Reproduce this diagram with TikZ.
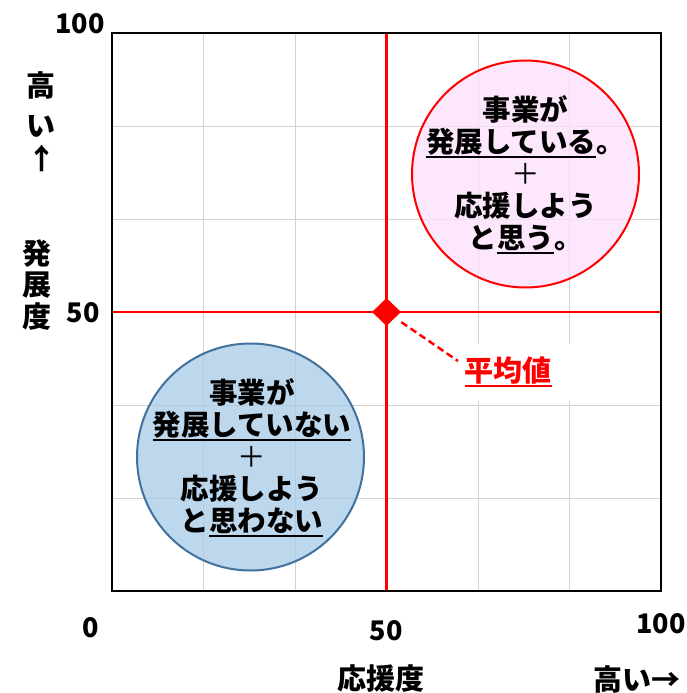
\documentclass[tikz,border=0pt]{standalone}
\usepackage{fontspec}
\usetikzlibrary{shapes.geometric}
\newfontfamily\jp{Noto Sans CJK JP}
\definecolor{gridgray}{RGB}{210,210,210}
\definecolor{bluefill}{RGB}{167,202,232}
\definecolor{blueedge}{RGB}{65,113,156}
\definecolor{pinkfill}{RGB}{252,224,252}
\definecolor{avgred}{RGB}{255,0,0}
\newcommand\ulx[1]{\setbox0=\hbox{#1}\leavevmode\rlap{\rule[-5.5pt]{\wd0}{1.8pt}}\box0}
\tikzset{
  jptext/.style={font=\jp\bfseries\fontsize{29}{32}\selectfont, inner sep=0pt},
  circtext/.style={font=\jp\bfseries\fontsize{28.5}{32}\selectfont, align=center, inner sep=0pt},
  numtext/.style={font=\jp\bfseries\fontsize{27}{32}\selectfont, inner sep=0pt},
  gridline/.style={draw=gridgray, line width=1pt},
  redline/.style={draw=avgred, line width=2.5pt},
  bubble/.style={line width=2pt, fill opacity=0.75}
}
\begin{document}
\begin{tikzpicture}[x=1pt,y=-1pt]
\useasboundingbox (0,0) rectangle (687,693);
\fill[white] (0,0) rectangle (687,693);
% grid
\foreach \i in {1,...,5} {
  \draw[gridline] ({112+91.5*\i},33) -- ({112+91.5*\i},591);
  \draw[gridline] (112,{33+93*\i}) -- (661,{33+93*\i});
}
% white box behind average label
\fill[white] (455,344) rectangle (576,401);
% bubbles
\filldraw[bubble, draw=avgred, fill=pinkfill] (525.5,174) circle (113.5);
\filldraw[bubble, draw=blueedge, fill=bluefill] (250.5,457) circle (113.5);
\node[circtext] (high) at (525.5,175)
  {事業が\\\ulx{発展している}。\\{\mdseries ＋}\\応援しよう\\と\ulx{思う}。};
\node[circtext] (low) at (252,458)
  {事業が\\\ulx{発展していない}\\{\mdseries ＋}\\応援しよう\\と\ulx{思わない}};
% average lines
\draw[redline] (386.5,33) -- (386.5,591);
\draw[redline] (112,312) -- (661,312);
% frame
\draw[line width=2.5pt] (112,33) rectangle (661,591);
% average marker
\node[diamond, fill=avgred, minimum width=29pt, minimum height=28pt, inner sep=0pt] (avg) at (386.5,312) {};
\coordinate (dashend) at (458,361);
\draw[avgred, line width=2.5pt, dash pattern=on 7pt off 4pt, shorten <=18pt] (avg.center) -- (dashend);
\node[jptext, text=avgred] (avglbl) at (508,372) {\ulx{平均値}};
% axis numbers
\node[numtext] (y100) at (80,24) {100};
\node[numtext] (y50) at (83,313) {50};
\node[numtext] (x0) at (91,628) {0};
\node[numtext] (x50) at (386,631) {50};
\node[numtext] (x100) at (661,624) {100};
% axis titles
\node[jptext] (yhigh1) at (41,85) {高};
\node[jptext] (yhigh2) at (41,126) {い};
\node[jptext] (yarrow) at (42,158) {↑};
\node[jptext, align=center, font=\jp\bfseries\fontsize{29}{31.5}\selectfont] (ytitle) at (37,285) {発\\展\\度};
\node[jptext] (xtitle) at (381,679) {応援度};
\node[jptext] (xhigh) at (637,679) {高い→};
\end{tikzpicture}
\end{document}
